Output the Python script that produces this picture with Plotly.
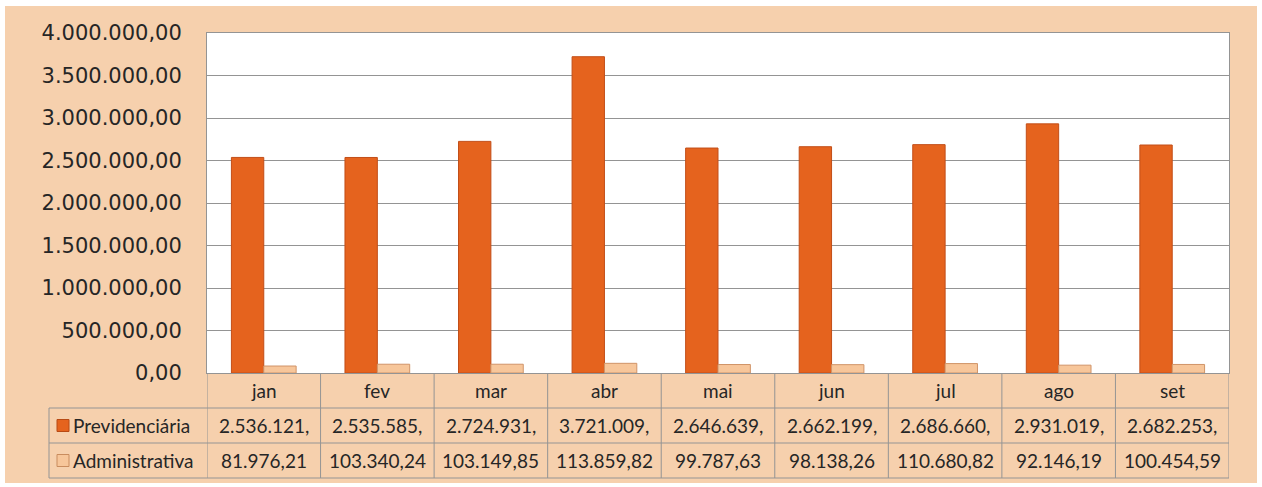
import plotly.graph_objects as go

months = ["jan", "fev", "mar", "abr", "mai", "jun", "jul", "ago", "set"]
previdenciaria = [2536121, 2535585, 2724931, 3721009, 2646639, 2662199, 2686660, 2931019, 2682253]
administrativa = [81976.21, 103340.24, 103149.85, 113859.82, 99787.63, 98138.26, 110680.82, 92146.19, 100454.59]
series_names = ["Previdenciária", "Administrativa"]
prev_labels = ["2.536.121,", "2.535.585,", "2.724.931,", "3.721.009,", "2.646.639,",
               "2.662.199,", "2.686.660,", "2.931.019,", "2.682.253,"]
admin_labels = ["81.976,21", "103.340,24", "103.149,85", "113.859,82", "99.787,63",
                "98.138,26", "110.680,82", "92.146,19", "100.454,59"]

W, H = 1262, 487
BG = "#f6d0ad"
GRID = "#949494"
PREV_C = "#e5631e"
ADMIN_C = "#f7c69a"
TXT = "#262626"

def px(x):
    return x / W

def py(y):
    return (H - y) / H

fig = go.Figure()
fig.add_trace(go.Bar(x=months, y=previdenciaria, name=series_names[0],
                     marker=dict(color=PREV_C, line=dict(color="#c24e18", width=1))))
fig.add_trace(go.Bar(x=months, y=administrativa, name=series_names[1],
                     marker=dict(color=ADMIN_C, line=dict(color="#d09468", width=1))))

shapes = []
# white scan border around the peach chart area
white = dict(type="rect", xref="paper", yref="paper", fillcolor="white",
             line=dict(width=0), layer="above")
shapes.append(dict(white, x0=0, x1=px(5), y0=0, y1=1))
shapes.append(dict(white, x0=px(1257), x1=1, y0=0, y1=1))
shapes.append(dict(white, x0=0, x1=1, y0=py(6), y1=1))
shapes.append(dict(white, x0=0, x1=1, y0=0, y1=py(483)))

line = dict(color=GRID, width=1)
row_y = [373, 408, 443, 478]
# horizontal table lines
for yy in row_y[1:]:
    shapes.append(dict(type="line", xref="paper", yref="paper", x0=px(49), x1=px(1229),
                       y0=py(yy), y1=py(yy), line=line))
# left edge of label column
shapes.append(dict(type="line", xref="paper", yref="paper", x0=px(49), x1=px(49),
                   y0=py(408), y1=py(478), line=line))
# vertical lines between categories
for k in range(len(months) + 1):
    shapes.append(dict(type="line", xref="x", yref="paper", x0=k - 0.5, x1=k - 0.5,
                       y0=py(373), y1=py(478), line=line))
# legend keys
for i, (c, lc) in enumerate([(PREV_C, "#b84a14"), (ADMIN_C, "#c98c5e")]):
    yc = (row_y[1] + row_y[2]) / 2 if i == 0 else (row_y[2] + row_y[3]) / 2
    shapes.append(dict(type="rect", xref="paper", yref="paper", x0=px(57), x1=px(69),
                       y0=py(yc + 6), y1=py(yc - 6), fillcolor=c, line=dict(color=lc, width=1)))

annotations = []
tfont = dict(family="Lato", size=19, color=TXT)
for i, m in enumerate(months):
    annotations.append(dict(x=i, y=py((row_y[0] + row_y[1]) / 2), xref="x", yref="paper",
                            text=m, showarrow=False, font=tfont, yanchor="middle"))
    annotations.append(dict(x=i, y=py((row_y[1] + row_y[2]) / 2), xref="x", yref="paper",
                            text=prev_labels[i], showarrow=False, font=tfont, yanchor="middle"))
    annotations.append(dict(x=i, y=py((row_y[2] + row_y[3]) / 2), xref="x", yref="paper",
                            text=admin_labels[i], showarrow=False, font=tfont, yanchor="middle"))
for i, nm in enumerate(series_names):
    yc = (row_y[1] + row_y[2]) / 2 if i == 0 else (row_y[2] + row_y[3]) / 2
    annotations.append(dict(x=px(71), y=py(yc), xref="paper", yref="paper", text=nm,
                            showarrow=False, xanchor="left", yanchor="middle", font=tfont))

fig.update_layout(
    width=W, height=H,
    autosize=False,
    margin=dict(l=0, r=0, t=0, b=0, pad=0),
    paper_bgcolor=BG,
    plot_bgcolor="white",
    separators=",.",
    showlegend=False,
    barmode="group",
    bargap=0.43,
    bargroupgap=0,
    shapes=shapes,
    annotations=annotations,
    xaxis=dict(domain=[px(207), px(1229)], range=[-0.5, 8.5], showticklabels=False,
               showgrid=False, showline=True, linecolor=GRID, linewidth=1, mirror=True,
               zeroline=False, fixedrange=True, automargin=False),
    yaxis=dict(domain=[py(373), py(33)], range=[0, 4000000], dtick=500000,
               tickformat=",.2f", showgrid=True, gridcolor=GRID, gridwidth=1,
               showline=True, linecolor=GRID, linewidth=1, mirror=True, zeroline=False,
               ticks="", ticklabelstandoff=20, automargin=False,
               tickfont=dict(family="DejaVu Sans", size=21, color=TXT)),
)

fig.write_html("out.html", config={"displayModeBar": False},
               post_script="document.body.style.margin='0';")
